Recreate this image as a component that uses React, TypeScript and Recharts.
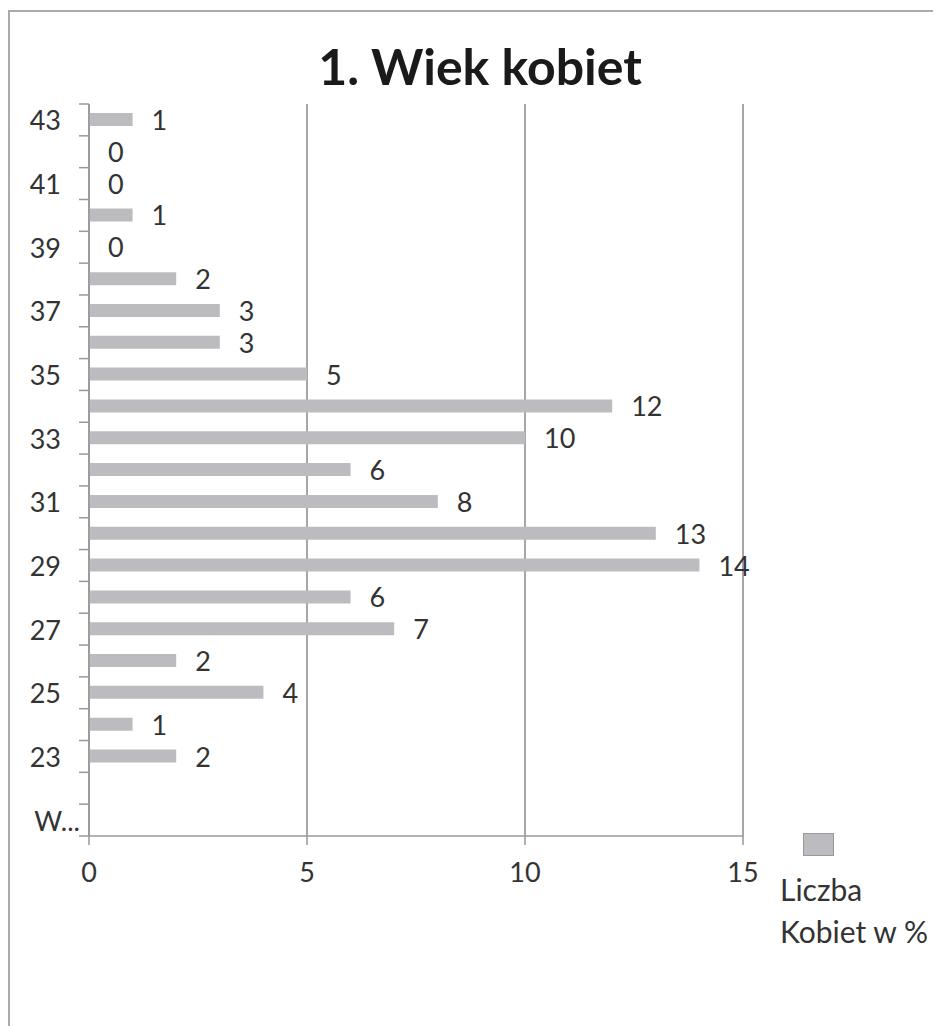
import { BarChart, Bar, XAxis, YAxis, CartesianGrid, LabelList } from 'recharts';

// top to bottom, as in the picture
const ages = ['43', '42', '41', '40', '39', '38', '37', '36', '35', '34', '33', '32', '31', '30', '29', '28', '27', '26', '25', '24', '23', '22', 'W...'];
const women = [1, 0, 0, 1, 0, 2, 3, 3, 5, 12, 10, 6, 8, 13, 14, 6, 7, 2, 4, 1, 2, null, null];
const xTicks = [0, 5, 10, 15];

const data = ages.map((age, i) => ({ age, value: women[i] }));

const FONT = 'Lato, "Open Sans", sans-serif';
const W = 933;
const H = 1018;
const MARGIN = { top: 96, right: 198, bottom: 150, left: 21 };
const Y_W = 60;
const X_H = 40;
const BAND = (H - MARGIN.top - MARGIN.bottom - X_H) / ages.length;

const AgeTick = (props: any) => {
  const { x, y, payload, index } = props;
  const axisX = x + 28;
  const last = index === ages.length - 1;
  const showLabel = index % 2 === 0;
  return (
    <g>
      <line x1={axisX - 10} x2={axisX} y1={y - BAND / 2} y2={y - BAND / 2} stroke="#999" strokeWidth={1.5} />
      {last && <line x1={axisX - 10} x2={axisX} y1={y + BAND / 2} y2={y + BAND / 2} stroke="#999" strokeWidth={1.5} />}
      {showLabel && (
        <text
          x={last ? axisX - 9 : x}
          y={y}
          textAnchor="end"
          dominantBaseline="central"
          fontSize={27}
          fontFamily={FONT}
          fill="#333"
        >
          {payload.value}
        </text>
      )}
    </g>
  );
};

const ValueLabel = (props: any) => {
  const { x, y, width, height, value } = props;
  if (value === null || value === undefined) return null;
  return (
    <text
      x={x + width + 19}
      y={y + height / 2}
      dominantBaseline="central"
      fontSize={27}
      fontFamily={FONT}
      fill="#333"
    >
      {String(value)}
    </text>
  );
};

export default function App() {
  return (
    <div style={{ position: 'relative', width: W, height: H }}>
      <div
        style={{
          position: 'absolute',
          left: 0,
          top: 2,
          width: W + 10,
          height: H + 10,
          borderTop: '2px solid #aaa',
          borderLeft: '2px solid #aaa',
          boxSizing: 'border-box',
        }}
      />
      <div
        style={{
          position: 'absolute',
          left: 0,
          top: 28,
          width: 944,
          textAlign: 'center',
          fontFamily: FONT,
          fontWeight: 700,
          fontSize: 50,
          color: '#1a1a1a',
          lineHeight: '60px',
        }}
      >
        1. Wiek kobiet
      </div>
      <div style={{ position: 'absolute', left: 0, top: 0 }}>
        <BarChart width={W} height={H} data={data} layout="vertical" margin={MARGIN}>
          <CartesianGrid horizontal={false} stroke="#888" strokeWidth={1.5} />
          <XAxis
            type="number"
            domain={[0, 15]}
            ticks={xTicks}
            height={X_H}
            axisLine={{ stroke: '#999', strokeWidth: 1.5 }}
            tickLine={{ stroke: '#999', strokeWidth: 1.5 }}
            tickSize={9}
            tickMargin={18}
            tick={{ fontSize: 27, fontFamily: FONT, fill: '#333' }}
          />
          <YAxis
            type="category"
            dataKey="age"
            width={Y_W}
            interval={0}
            axisLine={{ stroke: '#999', strokeWidth: 1.5 }}
            tickLine={false}
            tickSize={9}
            tickMargin={19}
            tick={<AgeTick />}
          />
          <Bar
            dataKey="value"
            fill="#BCBCC0"
            barSize={13}
            minPointSize={(v: any) => (v === 0 ? 0.01 : 0)}
            isAnimationActive={false}
          >
            <LabelList dataKey="value" content={<ValueLabel />} />
          </Bar>
        </BarChart>
      </div>
      <div
        style={{
          position: 'absolute',
          left: 772,
          top: 825,
          fontFamily: FONT,
          fontSize: 30,
          color: '#333',
          lineHeight: '42px',
        }}
      >
        <div style={{ width: 31, height: 23, background: '#BCBCC0', border: '1.5px solid #999', boxSizing: 'border-box', marginLeft: 23, marginBottom: 12 }} />
        <div>Liczba</div>
        <div>Kobiet w %</div>
      </div>
    </div>
  );
}
